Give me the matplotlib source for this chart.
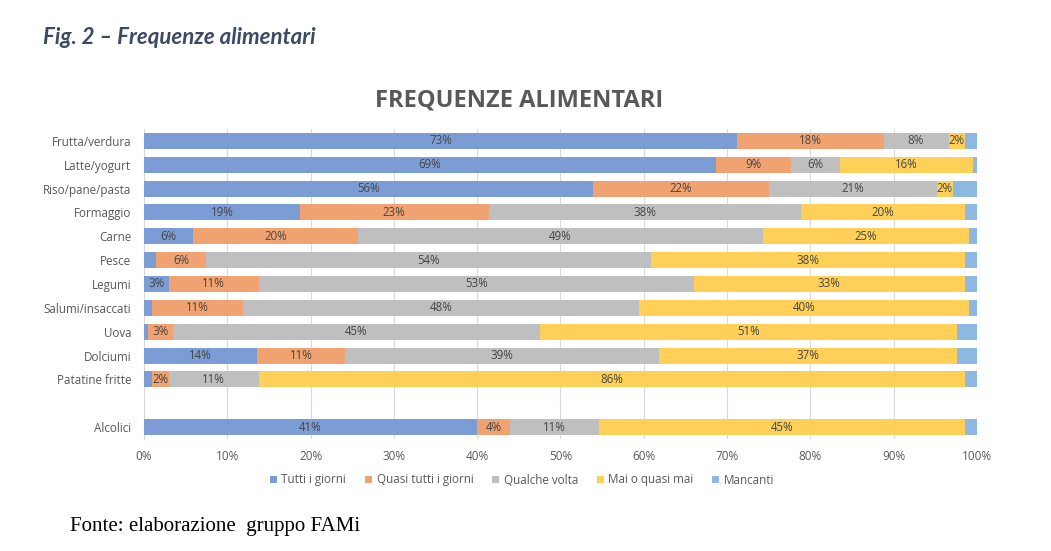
import matplotlib.pyplot as plt
import numpy as np

categories = ['Frutta/verdura', 'Latte/yogurt', 'Riso/pane/pasta', 'Formaggio', 'Carne', 'Pesce',
              'Legumi', 'Salumi/insaccati', 'Uova', 'Dolciumi', 'Patatine fritte', '', 'Alcolici']

tutti = [73, 69, 56, 19, 6, 1.5, 3, 1, 0.5, 14, 1, 0, 41]
quasi_tutti = [18, 9, 22, 23, 20, 6, 11, 11, 3, 11, 2, 0, 4]
qualche_volta = [8, 6, 21, 38, 49, 54, 53, 48, 45, 39, 11, 0, 11]
mai = [2, 16, 2, 20, 25, 38, 33, 40, 51, 37, 86, 0, 45]
mancanti = [1.5, 0.5, 3, 1.5, 1, 1.5, 1.5, 1, 2.5, 2.5, 1.5, 0, 1.5]

series_names = ['Tutti i giorni', 'Quasi tutti i giorni', 'Qualche volta', 'Mai o quasi mai', 'Mancanti']
colors = ['#7b9cd4', '#f0a370', '#bfbfbf', '#ffd057', '#8db8e0']
xticks = [0, 10, 20, 30, 40, 50, 60, 70, 80, 90, 100]

data = np.array([tutti, quasi_tutti, qualche_volta, mai, mancanti], dtype=float)
totals = data.sum(axis=0)
totals[totals == 0] = 1
share = data / totals * 100

fig = plt.figure(figsize=(10.51, 5.51), dpi=100)
ax = fig.add_axes([0.137, 0.2033, 0.7926, 0.5626])

y = np.arange(len(categories))
left = np.zeros(len(categories))
for i, name in enumerate(series_names):
    ax.barh(y, share[i], left=left, height=0.67, color=colors[i], label=name, zorder=2)
    if name != 'Mancanti':
        for j in range(len(categories)):
            if data[i, j] >= 2:
                ax.text(left[j] + share[i, j] / 2, y[j], f'{data[i, j]:.0f}%', ha='center', va='center',
                        fontsize=8.3, color='#454545', family='Open Sans', zorder=3)
    left += share[i]

ax.set_xlim(0, 100)
ax.set_ylim(len(categories) - 0.5, -0.5)
ax.set_yticks(y)
ax.set_yticklabels(categories, fontsize=8.4, color='#595959', family='Open Sans')
ax.set_xticks(xticks)
ax.set_xticklabels([f'{t}%' for t in xticks], fontsize=8.5, color='#595959', family='Open Sans')
ax.tick_params(axis='y', length=0, pad=9)
ax.tick_params(axis='x', length=0, pad=8)
ax.grid(axis='x', color='#d9d9d9', linewidth=0.8, zorder=0)
for s in ['top', 'right', 'bottom']:
    ax.spines[s].set_visible(False)
ax.spines['left'].set_color('#d9d9d9')
ax.spines['left'].set_zorder(1)

fig.text(519 / 1051, 1 - 101 / 551, 'FREQUENZE ALIMENTARI', ha='center', va='center', fontsize=17,
         fontweight='bold', color='#595959', family='Open Sans')

fig.legend(loc='center', bbox_to_anchor=(522 / 1051, 1 - 480 / 551), ncol=5, frameon=False,
           handlelength=0.6, handleheight=0.6, handletextpad=0.4, columnspacing=1.6,
           prop={'family': 'Open Sans', 'size': 8.4}, labelcolor='#595959')

fig.text(43 / 1051, 1 - 37 / 551, 'Fig. 2 – Frequenze alimentari', ha='left', va='center', fontsize=16,
         fontweight='bold', fontstyle='italic', color='#3c4a63', family='Lato')
fig.text(70 / 1051, 1 - 527 / 551, 'Fonte: elaborazione  gruppo FAMi', ha='left', va='center', fontsize=15,
         color='black', family='Liberation Serif')

fig.savefig('out.png', dpi=100)
